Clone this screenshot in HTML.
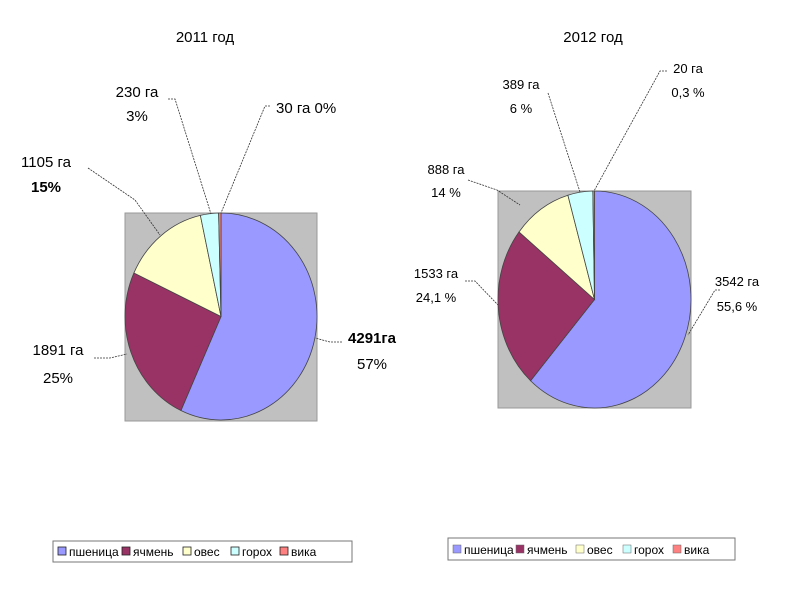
<!DOCTYPE html>
<html><head><meta charset="utf-8"><style>
body{margin:0;background:#fff;}
svg text{font-family:"Liberation Sans","DejaVu Sans",sans-serif;fill:#000;}
</style></head><body>
<svg width="800" height="600" xmlns="http://www.w3.org/2000/svg">
<text x="205" y="42" font-size="15" text-anchor="middle">2011 год</text>
<text x="593" y="42" font-size="15" text-anchor="middle">2012 год</text>
<rect x="125" y="213" width="192" height="208" fill="#c0c0c0" stroke="#999"/>
<rect x="498" y="191" width="193" height="217" fill="#c0c0c0" stroke="#999"/>
<g id="p1" stroke="#444" stroke-width="0.8"></g>
<g id="p2" stroke="#444" stroke-width="0.8"></g>
<g fill="none" stroke="#333" stroke-width="0.8" stroke-dasharray="2,1">
<path d="M88 168 L135 200 L160 235"/>
<path d="M168 99 L175 99 L211 214"/>
<path d="M270 106 L265 106 L221 213"/>
<path d="M94 358 L110 358 L127 354"/>
<path d="M342 342 L330 342 L315 338"/>
<path d="M468 180 L497 190 L520 205"/>
<path d="M548 93 L580 192"/>
<path d="M667 71 L660 71 L594 191"/>
<path d="M465 281 L475 281 L498 305"/>
<path d="M720 290 L715 290 L688 335"/>
</g>
<g font-size="15">
<text x="137" y="97" text-anchor="middle">230 га</text>
<text x="137" y="121" text-anchor="middle">3%</text>
<text x="276" y="113">30 га 0%</text>
<text x="46" y="167" text-anchor="middle">1105 га</text>
<text x="46" y="192" text-anchor="middle" font-weight="bold">15%</text>
<text x="58" y="355" text-anchor="middle">1891 га</text>
<text x="58" y="383" text-anchor="middle">25%</text>
<text x="372" y="343" text-anchor="middle" font-weight="bold">4291га</text>
<text x="372" y="369" text-anchor="middle">57%</text>
</g>
<g font-size="13">
<text x="521" y="89" text-anchor="middle">389 га</text>
<text x="521" y="113" text-anchor="middle">6 %</text>
<text x="688" y="73" text-anchor="middle">20 га</text>
<text x="688" y="97" text-anchor="middle">0,3 %</text>
<text x="446" y="174" text-anchor="middle">888 га</text>
<text x="446" y="197" text-anchor="middle">14 %</text>
<text x="436" y="278" text-anchor="middle">1533 га</text>
<text x="436" y="302" text-anchor="middle">24,1 %</text>
<text x="737" y="286" text-anchor="middle">3542 га</text>
<text x="737" y="311" text-anchor="middle">55,6 %</text>
</g>
<rect x="53" y="541" width="299" height="21" fill="#fff" stroke="#777"/>
<rect x="448" y="538" width="287" height="22" fill="#fff" stroke="#777"/>
<g font-size="12" id="leg"></g>
</svg>
<script>
var cols=["#9999ff","#993366","#ffffcc","#ccffff","#ff8080"];
function pie(id,cx,cy,rx,ry,angs){
 var g=document.getElementById(id),a0=0,s="";
 for(var i=0;i<angs.length;i++){var a1=angs[i];
  var r0=a0*Math.PI/180,r1=a1*Math.PI/180;
  var x0=cx+rx*Math.sin(r0),y0=cy-ry*Math.cos(r0),x1=cx+rx*Math.sin(r1),y1=cy-ry*Math.cos(r1);
  var lg=(a1-a0)>180?1:0;
  s+='<path fill="'+cols[i]+'" d="M'+cx+' '+cy+' L'+x0+' '+y0+' A'+rx+' '+ry+' 0 '+lg+' 1 '+x1+' '+y1+' Z"/>';
  a0=a1;}
 g.innerHTML=s;
}
var d=[4291,1891,1105,230,30],t=7547,c=0,A=[];
for(var i=0;i<5;i++){c+=d[i];A.push(c/t*360);}
pie("p1",221,316.5,96,103.5,A);
pie("p2",594.5,299.5,96.5,108.5,[221.5,308.5,344,359,360]);
var names=["пшеница","ячмень","овес","горох","вика"];
var L1=[58,122,183,231,280],L2=[453,516,576,623,673],s="";
for(var i=0;i<5;i++){
 s+='<rect x="'+L1[i]+'" y="547" width="8" height="8" fill="'+cols[i]+'" stroke="#222" stroke-width="0.8"/><text x="'+(L1[i]+11)+'" y="556">'+names[i]+'</text>';
 s+='<rect x="'+L2[i]+'" y="545" width="8" height="8" fill="'+cols[i]+'" stroke="#666" stroke-width="0.5"/><text x="'+(L2[i]+11)+'" y="554">'+names[i]+'</text>';
}
document.getElementById("leg").innerHTML=s;
</script>
</body></html>
